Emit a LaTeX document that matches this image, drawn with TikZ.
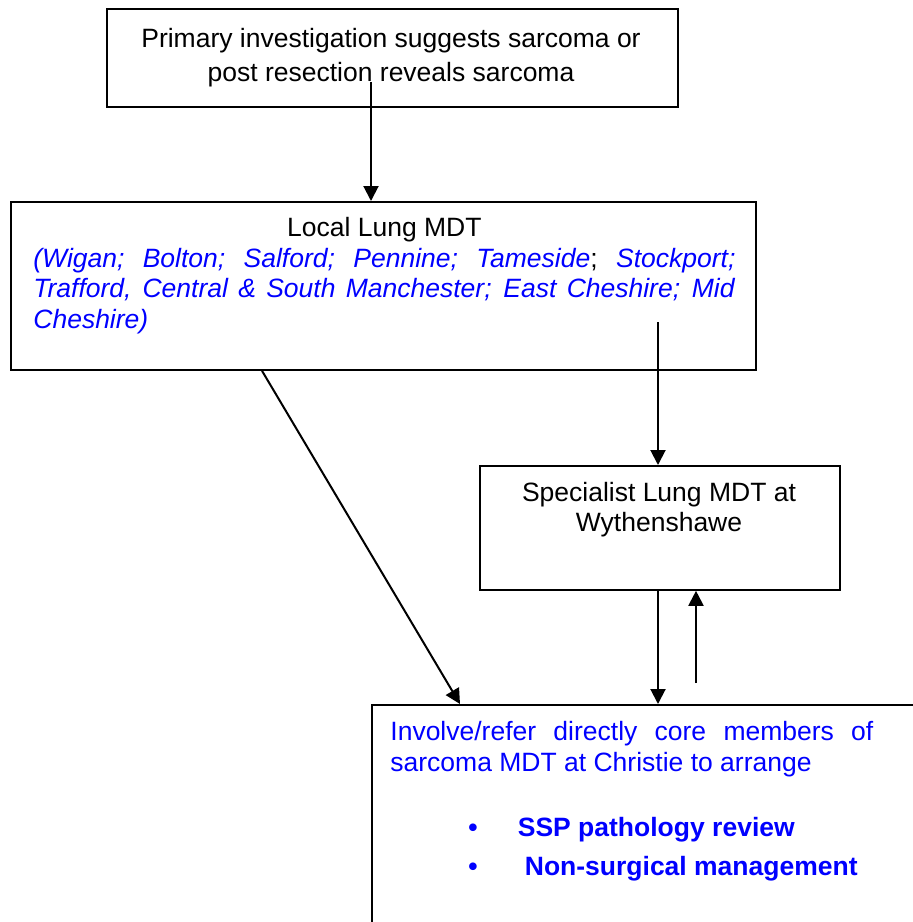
\documentclass[tikz,border=0pt]{standalone}
\usepackage{fontspec}
\setmainfont{Liberation Sans}
\usetikzlibrary{arrows.meta}
\definecolor{wordblue}{RGB}{0,0,255}

\begin{document}
\begin{tikzpicture}[x=0.5pt,y=-0.5pt,
  flowbox/.style={draw,line width=0.9pt,anchor=north west,inner sep=0pt},
  flowarrow/.style={line width=1pt,-{Triangle[length=7.5pt,width=7.5pt]}},
  boxtext/.style={inner sep=0pt,anchor=north,align=center,font=\fontsize{13.25}{17}\selectfont},
  paratext/.style={inner sep=0pt,anchor=north west,font=\fontsize{13.25}{15.25}\selectfont}]
\clip (0,0) rectangle (913,922);
% boxes
\node[flowbox,minimum width=285.5pt,minimum height=49pt] (primary) at (106,8) {};
\node[flowbox,minimum width=372.5pt,minimum height=84pt] (local) at (10,201) {};
\node[flowbox,minimum width=180pt,minimum height=62pt] (specialist) at (479,465) {};
\node[flowbox,minimum width=300pt,minimum height=150pt] (sarcoma) at (371,704) {};
% texts
\node[boxtext] (primary text) at (391,28) {Primary investigation suggests sarcoma or\\post resection reveals sarcoma};
\node[paratext,text width=351pt,align=justify] (local text) at (33,217)
  {{\centering Local Lung MDT\par}
   \color{wordblue}\textit{(Wigan; Bolton; Salford; Pennine; Tameside}{\color{black};} \textit{Stockport;}\linebreak
   \textit{Trafford, Central \& South Manchester; East Cheshire; Mid}\linebreak
   \textit{Cheshire)}};
\node[boxtext,font=\fontsize{13.25}{15}\selectfont] (specialist text) at (659,482) {Specialist Lung MDT at\\Wythenshawe};
\node[paratext,text width=241.5pt,align=justify,text=wordblue] (sarcoma text) at (390,721)
  {Involve/refer directly core members of\linebreak sarcoma MDT at Christie to arrange};
\node[paratext,align=left,text=wordblue,font=\fontsize{13.25}{19.5}\bfseries] (sarcoma list) at (468,817)
  {\textbullet\hspace{20.1pt}SSP pathology review\\
   \textbullet\hspace{23.6pt}Non-surgical management};
% arrows
\coordinate (primary out) at (371,82);
\coordinate (local out) at (658,322);
\coordinate (back in) at (696,683);
\draw[flowarrow] (primary out) -- (primary out |- local.north);
\draw[flowarrow] (local out) -- (local out |- specialist.north);
\draw[flowarrow] ([xshift=126pt]local.south west) -- ([xshift=44.5pt]sarcoma.north west);
\draw[flowarrow] (local out |- specialist.south) -- (local out |- sarcoma.north);
\draw[flowarrow] (back in) -- (back in |- specialist.south);
\end{tikzpicture}
\end{document}
